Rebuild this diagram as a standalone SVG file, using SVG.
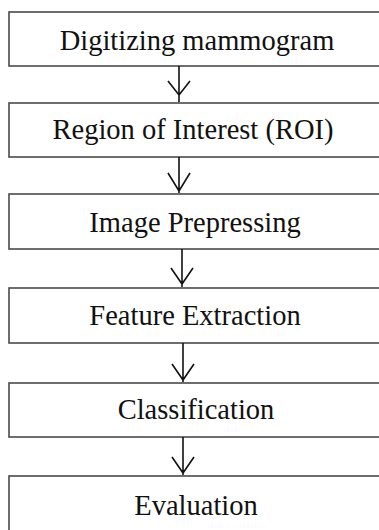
<svg xmlns="http://www.w3.org/2000/svg" width="379" height="530" viewBox="0 0 379 530">
<style>
.box{fill:#fff;stroke:#4a4a4a;stroke-width:1.6}
.lbl{font-family:"Liberation Serif","Times New Roman",serif;font-size:28.5px;fill:#111;text-anchor:middle}
.con{stroke:#111;stroke-width:1.6;fill:none}
</style>
<rect width="379" height="530" fill="#fff"/>
<g id="n1"><rect class="box" x="9" y="12" width="385" height="54"/><text class="lbl" x="197" y="50">Digitizing mammogram</text></g>
<g id="n2"><rect class="box" x="9" y="103" width="385" height="54"/><text class="lbl" x="193" y="139">Region of Interest (ROI)</text></g>
<g id="n3"><rect class="box" x="9" y="194" width="385" height="55"/><text class="lbl" x="195" y="232">Image Prepressing</text></g>
<g id="n4"><rect class="box" x="9" y="288" width="385" height="55"/><text class="lbl" x="195" y="325">Feature Extraction</text></g>
<g id="n5"><rect class="box" x="9" y="383" width="385" height="54"/><text class="lbl" x="196" y="419">Classification</text></g>
<g id="n6"><rect class="box" x="9" y="476" width="385" height="80"/><text class="lbl" x="196" y="515">Evaluation</text></g>
<g id="connectors">
<path class="con" d="M179 66V102M168 81L179 95L190 81"/>
<path class="con" d="M179 157V193M168 173L179 191L190 173"/>
<path class="con" d="M182 249V287M171 268L182 284L193 268"/>
<path class="con" d="M183 343V382M172 364L183 380L194 364"/>
<path class="con" d="M183 437V475M172 457L183 473L194 457"/>
</g>
</svg>
